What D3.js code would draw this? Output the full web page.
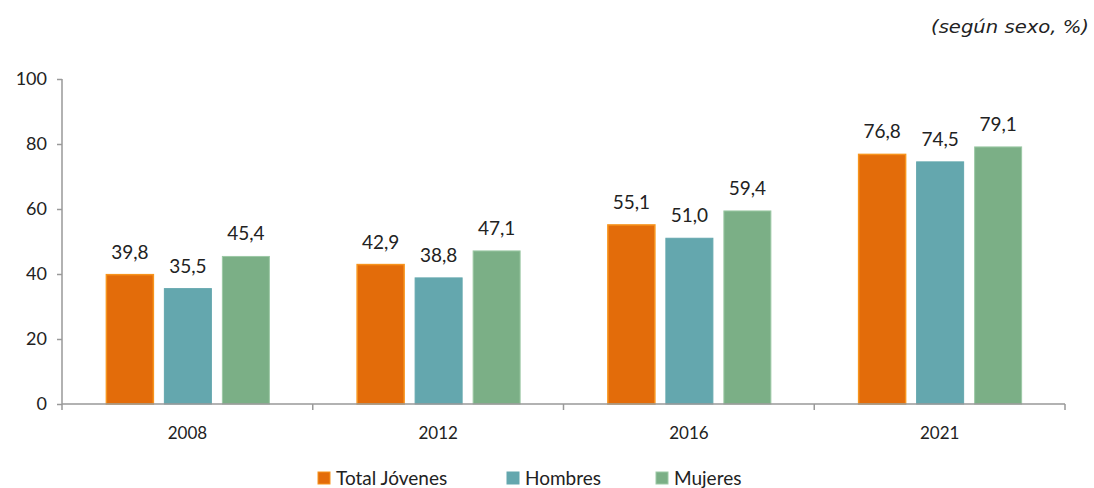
<!DOCTYPE html>
<html><head><meta charset="utf-8">
<script src="https://cdn.jsdelivr.net/npm/d3@7"></script>
<style>body{margin:0;background:#fff;}svg{display:block;}</style>
</head><body>
<svg id="c" width="1094" height="488"></svg>
<script>
const categories = ["2008","2012","2016","2021"];
const seriesNames = ["Total Jóvenes","Hombres","Mujeres"];
const totalJovenes = [39.8, 42.9, 55.1, 76.8];
const hombres = [35.5, 38.8, 51.0, 74.5];
const mujeres = [45.4, 47.1, 59.4, 79.1];
const yTicks = [0,20,40,60,80,100];
const colors = ["#E36C0A","#64A7AE","#7BAF86"];
const strokes = ["#F7941D","#64A7AE","#9CC9A5"];

const values = [totalJovenes, hombres, mujeres];
const svg = d3.select("#c");
const font = "Lato, 'Open Sans', sans-serif";
const x0 = d3.scaleBand().domain(categories).range([62,1065]).paddingInner(0).paddingOuter(0);
const y = d3.scaleLinear().domain([0,100]).range([404,79]);
const barW = 47, gap = 11;

const yAx = svg.append("g").attr("transform","translate(62,0)")
  .call(d3.axisLeft(y).tickValues(yTicks).tickSize(5).tickPadding(10).tickFormat(d3.format("d")));
yAx.selectAll("path,line").attr("stroke","#999").attr("stroke-width",1.5);
yAx.select(".domain").attr("d","M0,79V404");
yAx.selectAll("text").attr("font-family",font).attr("font-size",18).attr("fill","#222");

categories.forEach((c,i)=>{
  const cx = x0(c) + x0.bandwidth()/2;
  values.forEach((vals,s)=>{
    const bx = cx + (s-1)*(barW+gap) - barW/2 + 0.5;
    svg.append("rect").attr("x",bx).attr("y",y(vals[i])).attr("width",barW)
      .attr("height",y(0)-y(vals[i])).attr("fill",colors[s])
      .attr("stroke",strokes[s]).attr("stroke-width",s===0?1.5:1);
    svg.append("text").attr("x",bx+barW/2).attr("y",y(vals[i])-16)
      .attr("text-anchor","middle").attr("font-family",font).attr("font-size",19).attr("fill","#222")
      .text(d3.format(".1f")(vals[i]).replace(".",","));
  });
});

const xAx = svg.append("g").attr("transform","translate(0,404)")
  .call(d3.axisBottom(x0).tickSize(0).tickPadding(0));
xAx.select(".domain").attr("stroke","#999").attr("stroke-width",1.5).attr("d","M62,0H1065");
xAx.selectAll("text").attr("font-family",font).attr("font-size",17).attr("fill","#222")
  .attr("dy",null).attr("y",35);
const bounds = [62].concat(categories.map(c=>x0(c)+x0.bandwidth()));
svg.selectAll(".xt").data(bounds).enter().append("line")
  .attr("x1",d=>d).attr("x2",d=>d).attr("y1",404).attr("y2",410)
  .attr("stroke","#999").attr("stroke-width",1.5);

svg.append("text").attr("x",1089).attr("y",33).attr("text-anchor","end")
  .attr("font-family","'DejaVu Sans', sans-serif").attr("font-style","italic").attr("font-size",17)
  .attr("fill","#222").attr("textLength",158).attr("lengthAdjust","spacingAndGlyphs")
  .text("(según sexo, %)");

const legX = [318, 507, 656];
seriesNames.forEach((n,s)=>{
  svg.append("rect").attr("x",legX[s]).attr("y",472).attr("width",12).attr("height",12)
    .attr("fill",colors[s]).attr("stroke",strokes[s]);
  svg.append("text").attr("x",legX[s]+18).attr("y",485).attr("font-family",font)
    .attr("font-size",19).attr("fill","#222").text(n);
});
</script>
</body></html>
